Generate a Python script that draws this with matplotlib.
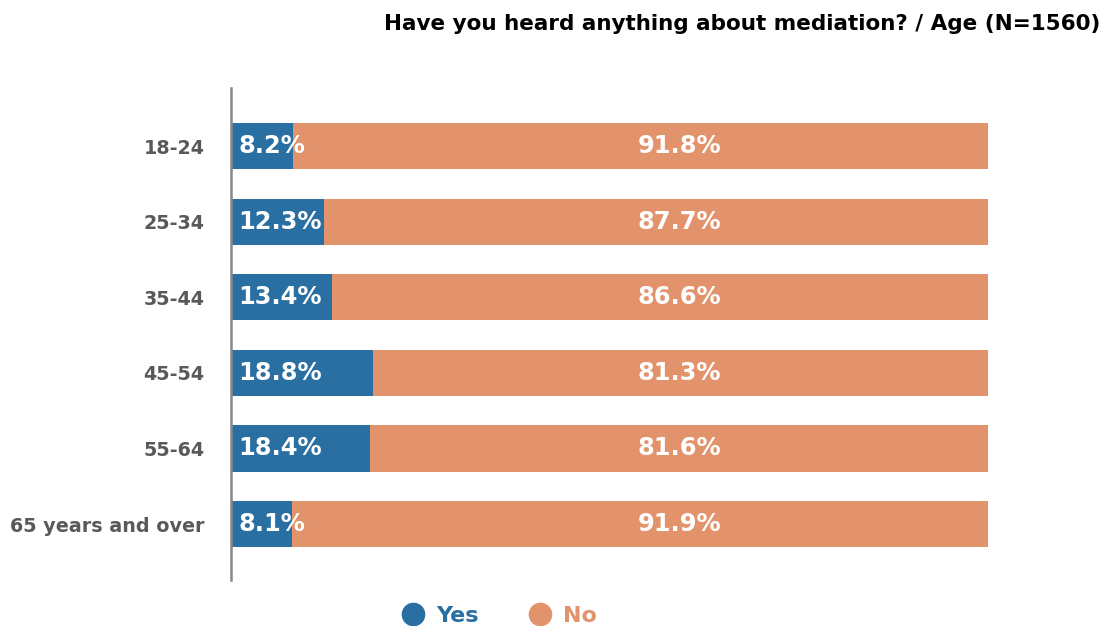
import matplotlib.pyplot as plt
from matplotlib.lines import Line2D

ages = ['18-24', '25-34', '35-44', '45-54', '55-64', '65 years and over']
yes = [8.2, 12.3, 13.4, 18.8, 18.4, 8.1]
no = [91.8, 87.7, 86.6, 81.3, 81.6, 91.9]

blue = '#2a6fa2'
orange = '#e2936b'

fig = plt.figure(figsize=(11.09, 6.26), dpi=100)
ax = fig.add_axes([231 / 1109, 1 - 580 / 626, (988 - 231) / 1109, (580 - 88) / 626])

y = range(len(ages))
ax.barh(y, yes, height=0.61, color=blue)
ax.barh(y, no, left=yes, height=0.61, color=orange)

for i in y:
    ax.text(1.0, i, f'{yes[i]}%', color='white', fontsize=17.4, fontweight='bold',
            ha='left', va='center')
    ax.text(59.2, i, f'{no[i]}%', color='white', fontsize=17.4, fontweight='bold',
            ha='center', va='center')

ax.set_xlim(0, 100)
ax.set_ylim(5.74, -0.77)
ax.set_yticks(list(y))
ax.set_yticklabels(ages, fontsize=13.8, fontweight='bold', color='#595959')
ax.tick_params(axis='y', length=0, pad=19)
ax.set_xticks([])
for s in ['top', 'right', 'bottom']:
    ax.spines[s].set_visible(False)
ax.spines['left'].set_color('#888888')
ax.spines['left'].set_linewidth(1.8)

fig.text(1100 / 1109, 1 - 24 / 626, 'Have you heard anything about mediation? / Age (N=1560)',
         ha='right', va='center', fontsize=15.5, fontweight='bold')

handles = [Line2D([], [], marker='o', linestyle='', markersize=16, color=blue, label='Yes'),
           Line2D([], [], marker='o', linestyle='', markersize=16, color=orange, label='No')]
leg = fig.legend(handles=handles, loc='center', bbox_to_anchor=(494 / 1109, 1 - 616 / 626),
                 ncol=2, frameon=False, labelcolor='linecolor', handletextpad=0.05,
                 columnspacing=1.76, prop={'size': 16, 'weight': 'bold'})

fig.savefig('out.png', dpi=100)
